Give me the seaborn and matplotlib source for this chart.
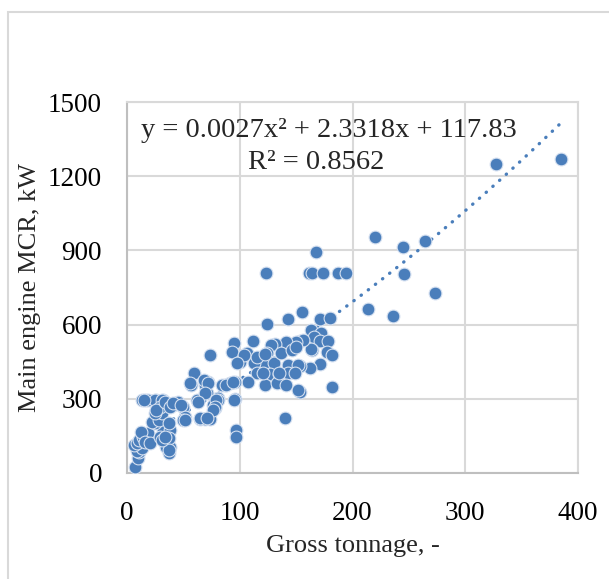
import matplotlib
matplotlib.use("Agg")
import matplotlib.pyplot as plt
from matplotlib.patches import Rectangle
import numpy as np
import pandas as pd
import seaborn as sns

# gross tonnage vs main engine MCR
gross_tonnage = [
    385, 327, 220, 245, 264, 168, 246, 273, 214, 236,
    123, 161, 164, 174, 187, 194, 155, 171, 180, 143,
    124, 163, 172, 166, 171, 178, 153, 164, 177, 182,
    171, 162, 153, 153, 182, 163, 156, 150, 141, 131,
    128, 112, 95, 93, 106, 100, 124, 127, 122, 130,
    137, 146, 150, 113, 143, 152, 115, 127, 135, 143,
    149, 107, 96, 91, 87, 122, 133, 141, 152, 81,
    96, 140, 97, 97, 104, 98, 115, 122, 121, 135,
    7, 10, 11, 9, 13, 6, 9, 11, 14, 19,
    12, 16, 20, 13, 17, 26, 32, 19, 25, 31,
    29, 28, 31, 35, 32, 38, 29, 35, 38, 37,
    41, 45, 50, 51, 50, 25, 22, 28, 31, 25,
    29, 26, 34, 38, 41, 37, 37, 37, 31, 34,
    48, 51, 57, 62, 69, 72, 71, 76, 78, 65,
    69, 74, 81, 84, 74, 59, 56, 68, 72, 69,
    63, 79, 78, 76, 65, 71, 88, 94, 95, 15,
]
mcr_kw = [
    1270, 1250, 955, 912, 938, 892, 806, 727, 662, 634,
    807, 807, 807, 807, 807, 807, 650, 622, 628, 624,
    603, 578, 565, 551, 534, 534, 534, 497, 490, 477,
    440, 423, 433, 329, 349, 500, 538, 531, 531, 522,
    518, 535, 527, 490, 484, 450, 484, 450, 443, 443,
    484, 497, 511, 443, 437, 437, 403, 400, 400, 406,
    406, 369, 369, 363, 356, 356, 363, 356, 336, 302,
    299, 221, 174, 147, 477, 443, 470, 481, 403, 403,
    25, 59, 86, 90, 100, 113, 120, 133, 147, 160,
    167, 127, 120, 295, 295, 295, 295, 295, 295, 295,
    255, 228, 214, 201, 174, 174, 147, 106, 106, 80,
    275, 288, 268, 228, 214, 201, 207, 214, 241, 241,
    268, 255, 288, 268, 282, 201, 140, 93, 133, 147,
    275, 214, 356, 295, 356, 369, 322, 275, 262, 217,
    217, 217, 295, 356, 477, 403, 362, 376, 363, 322,
    288, 295, 268, 255, 221, 221, 356, 369, 295, 295,
]

# polynomial trendline printed on the chart
trend_coef = [0.0027, 2.3318, 117.83]
equation_text = "y = 0.0027x² + 2.3318x + 117.83"
r2_text = "R² = 0.8562"

df = pd.DataFrame({"gt": gross_tonnage, "mcr": mcr_kw})

sns.set_style("white")
plt.rcParams["font.family"] = ["Liberation Serif", "DejaVu Serif"]

fig = plt.figure(figsize=(6.09, 5.79), dpi=100)
ax = fig.add_axes([127 / 609, 1 - 473 / 579, 451 / 609, 371 / 579])

# outer chart frame (cut off at right and bottom like the source)
fig.patches.append(Rectangle((8 / 609, -0.1), 1.2, 1.1 - 12 / 579,
                             transform=fig.transFigure, fill=False,
                             edgecolor="#d9d9d9", lw=1.5))

# trendline under the markers
xs = np.linspace(min(gross_tonnage), max(gross_tonnage), 300)
ys = trend_coef[0] * xs ** 2 + trend_coef[1] * xs + trend_coef[2]
ax.plot(xs, ys, color="#4a7ebb", lw=2.4, linestyle=(0, (0.1, 2.6)),
        dash_capstyle="round", zorder=2)

sns.scatterplot(data=df, x="gt", y="mcr", ax=ax, s=85, color="#4a7ebb",
                edgecolor="#d5e0f0", linewidth=0.8, zorder=3, legend=False)

ax.set_xlim(0, 400)
ax.set_ylim(0, 1500)
ax.set_xticks(range(0, 401, 100))
ax.set_yticks(range(0, 1501, 300))
ax.grid(True, color="#d9d9d9", lw=1.5)
ax.set_axisbelow(True)
for sp in ax.spines.values():
    sp.set_color("#d9d9d9")
    sp.set_linewidth(1.5)
ax.spines["left"].set_color("#bfbfbf")
ax.spines["bottom"].set_color("#bfbfbf")
ax.tick_params(length=0, labelsize=19.5, colors="black")
ax.tick_params(axis="y", pad=18)
ax.tick_params(axis="x", pad=20)

ax.set_xlabel("Gross tonnage, -", fontsize=19)
ax.set_ylabel("Main engine MCR, kW", fontsize=19)
ax.xaxis.set_label_coords(0.5, -0.168)
ax.yaxis.set_label_coords(-0.19, 0.5)

ax.text(0.448, 0.922, equation_text, transform=ax.transAxes, fontsize=20.5,
        ha="center", va="center")
ax.text(0.419, 0.836, r2_text, transform=ax.transAxes, fontsize=20.5,
        ha="center", va="center")

fig.savefig("out.png", dpi=100)
